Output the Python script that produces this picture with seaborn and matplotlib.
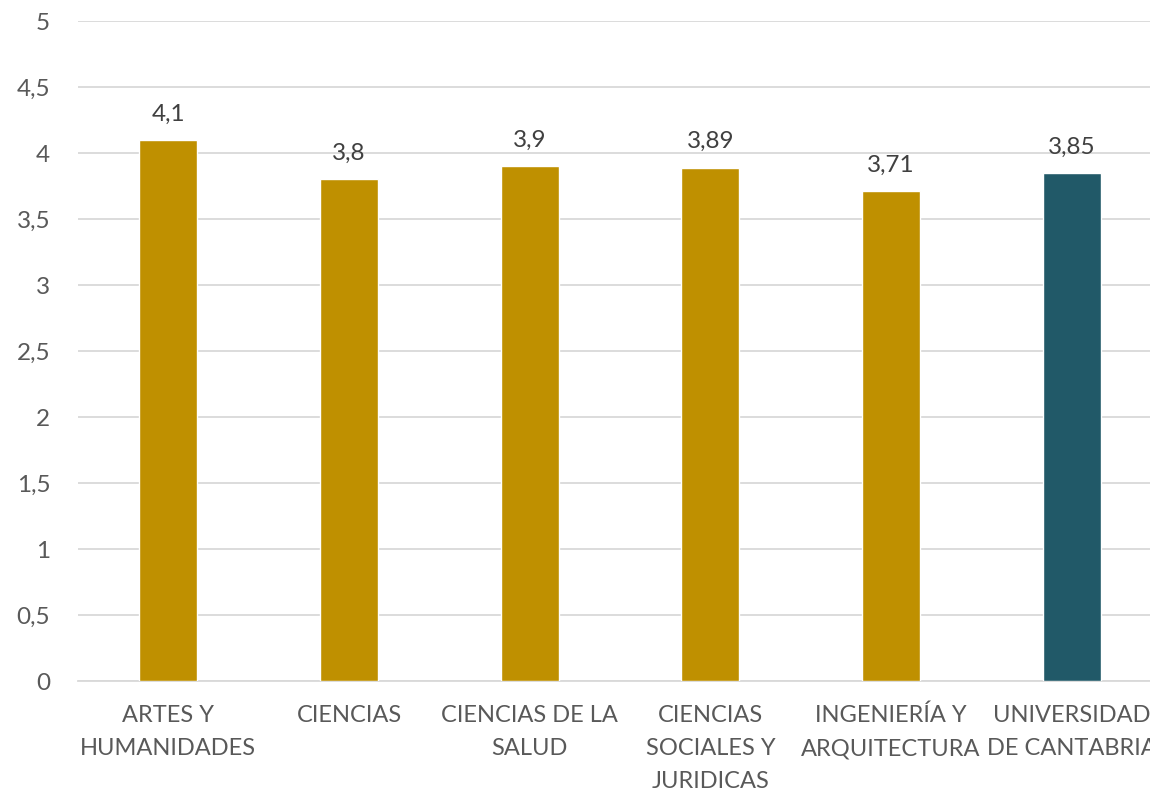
import matplotlib
matplotlib.use("Agg")
import matplotlib.pyplot as plt
import seaborn as sns
import pandas as pd
from matplotlib.ticker import FuncFormatter

# datos del gráfico
categorias = ["ARTES Y\nHUMANIDADES", "CIENCIAS", "CIENCIAS DE LA\nSALUD",
              "CIENCIAS\nSOCIALES Y\nJURIDICAS", "INGENIERÍA Y\nARQUITECTURA",
              "UNIVERSIDAD\nDE CANTABRIA"]
valores = [4.1, 3.8, 3.9, 3.89, 3.71, 3.85]
grupo = ["rama", "rama", "rama", "rama", "rama", "total"]

df = pd.DataFrame({"categoria": categorias, "valor": valores, "grupo": grupo})

sns.set_style("white")
plt.rcParams["font.family"] = ["Lato", "DejaVu Sans"]

fig = plt.figure(figsize=(11.5, 7.91), dpi=100)
ax = fig.add_axes([78 / 1150, 1 - 681 / 791, 1084 / 1150, 660 / 791])

sns.barplot(data=df, x="categoria", y="valor", hue="grupo",
            palette={"rama": "#BF9000", "total": "#215968"}, saturation=1,
            width=0.32, dodge=False, legend=False, ax=ax, zorder=3)

# etiquetas de valor con coma decimal
for cont in ax.containers:
    ax.bar_label(cont, labels=[f"{v.get_height():g}".replace(".", ",") for v in cont],
                 padding=11, fontsize=17.5, color="#404040")

ax.set_ylim(0, 5)
ax.set_yticks([0, 0.5, 1, 1.5, 2, 2.5, 3, 3.5, 4, 4.5, 5])
ax.yaxis.set_major_formatter(FuncFormatter(lambda v, p: f"{v:g}".replace(".", ",")))
ax.grid(axis="y", color="#D9D9D9", linewidth=1.3, zorder=0)
ax.grid(axis="x", visible=False)
for s in ["top", "right", "left"]:
    ax.spines[s].set_visible(False)
ax.spines["bottom"].set_color("#D9D9D9")
ax.spines["bottom"].set_linewidth(1.3)

ax.tick_params(axis="y", length=0, pad=20, labelsize=17.5, labelcolor="#595959")
ax.tick_params(axis="x", length=0, pad=17, labelsize=17, labelcolor="#595959")
for t in ax.get_xticklabels():
    t.set_linespacing(1.72)
    t.set_verticalalignment("top")
ax.set_xlabel("")
ax.set_ylabel("")

fig.savefig("out.png", dpi=100)
